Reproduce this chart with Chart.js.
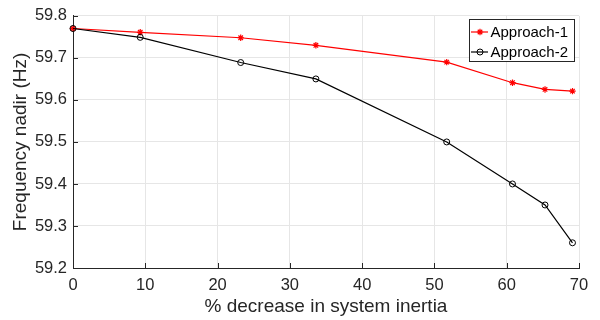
<!DOCTYPE html>
<html>
<head>
<meta charset="utf-8">
<script src="https://cdn.jsdelivr.net/npm/chart.js@4/dist/chart.umd.min.js"></script>
<style>
  html, body { margin: 0; padding: 0; background: #ffffff; }
  #wrap { width: 600px; height: 320px; position: relative; }
</style>
</head>
<body>
<div id="wrap"><canvas id="c" width="600" height="320"></canvas></div>
<script>
const inertiaDecrease = [0, 9.3, 23.2, 33.6, 51.7, 60.8, 65.3, 69.1];
const approach1 = [59.77, 59.761, 59.748, 59.73, 59.69, 59.641, 59.625, 59.621];
const approach2 = [59.77, 59.749, 59.689, 59.65, 59.50, 59.40, 59.35, 59.26];
const seriesNames = ['Approach-1', 'Approach-2'];
const xTitle = '% decrease in system inertia';
const yTitle = 'Frequency nadir (Hz)';

const AXIS = '#262626';
const FONT = '"Liberation Sans", Arial, Helvetica, sans-serif';

function pts(xs, ys) { return xs.map((x, i) => ({ x: x, y: ys[i] })); }

const innerTicks = {
  id: 'innerTicks',
  afterDatasetsDraw(chart) {
    const ctx = chart.ctx, xs = chart.scales.x, ys = chart.scales.y, a = chart.chartArea;
    ctx.save();
    ctx.strokeStyle = AXIS; ctx.lineWidth = 1;
    ctx.beginPath();
    xs.ticks.forEach(t => {
      const px = Math.round(xs.getPixelForValue(t.value)) + 0.5;
      ctx.moveTo(px, a.bottom); ctx.lineTo(px, a.bottom - 5);
    });
    ys.ticks.forEach(t => {
      const py = Math.round(ys.getPixelForValue(t.value)) + 0.5;
      ctx.moveTo(a.left, py); ctx.lineTo(a.left + 5, py);
    });
    ctx.stroke();
    ctx.restore();
  }
};

const boxLegend = {
  id: 'boxLegend',
  afterDraw(chart) {
    const ctx = chart.ctx;
    const x0 = 469.5, y0 = 19.5, w = 105, h = 42;
    ctx.save();
    ctx.fillStyle = '#ffffff';
    ctx.fillRect(x0, y0, w, h);
    ctx.strokeStyle = AXIS; ctx.lineWidth = 1;
    ctx.strokeRect(x0, y0, w, h);
    const rows = [32, 52];
    chart.data.datasets.forEach((ds, i) => {
      const y = rows[i];
      ctx.strokeStyle = ds.borderColor; ctx.lineWidth = 1.2;
      ctx.beginPath(); ctx.moveTo(471, y); ctx.lineTo(488, y); ctx.stroke();
      ctx.lineWidth = ds.pointBorderWidth;
      ctx.strokeStyle = ds.pointBorderColor;
      ctx.fillStyle = ds.backgroundColor;
      Chart.helpers.drawPoint(ctx, {
        pointStyle: ds.pointStyle, radius: ds.pointRadius, borderWidth: ds.pointBorderWidth, rotation: 0
      }, 480, y);
      ctx.fillStyle = '#000000';
      ctx.font = '15px ' + FONT;
      ctx.textBaseline = 'middle'; ctx.textAlign = 'left';
      ctx.fillText(ds.label, 490.5, y + 0.5);
    });
    ctx.restore();
  }
};

new Chart(document.getElementById('c'), {
  type: 'line',
  data: {
    datasets: [
      {
        label: seriesNames[0],
        data: pts(inertiaDecrease, approach1),
        borderColor: '#ff0000', backgroundColor: '#ff0000',
        borderWidth: 1.2, pointStyle: 'star', pointRadius: 3.2,
        pointBorderColor: '#ff0000', pointBorderWidth: 1.2,
        tension: 0, clip: false, order: 1
      },
      {
        label: seriesNames[1],
        data: pts(inertiaDecrease, approach2),
        borderColor: '#000000', backgroundColor: 'rgba(0,0,0,0)',
        borderWidth: 1.2, pointStyle: 'circle', pointRadius: 3,
        pointBorderColor: '#000000', pointBorderWidth: 1,
        tension: 0, clip: false, order: 0
      }
    ]
  },
  options: {
    responsive: false,
    animation: false,
    events: [],
    layout: { padding: { left: 0, right: 21, top: 15, bottom: 0 } },
    plugins: { legend: { display: false }, tooltip: { enabled: false } },
    scales: {
      x: {
        type: 'linear', min: 0, max: 70,
        afterFit(s) { s.height = 52; },
        ticks: { stepSize: 10, color: AXIS, padding: 8, maxRotation: 0,
                 font: { family: FONT, size: 16.5 } },
        grid: { color: '#e6e6e6', lineWidth: 1, drawTicks: false },
        border: { display: true, color: AXIS, width: 1 },
        title: { display: true, text: xTitle, color: AXIS,
                 font: { family: FONT, size: 19, lineHeight: 1 }, padding: { top: 0, bottom: 3.5 } }
      },
      y: {
        type: 'linear', min: 59.2, max: 59.8,
        afterFit(s) { s.width = 73; },
        ticks: { stepSize: 0.1, color: AXIS, padding: 6,
                 font: { family: FONT, size: 16.5 },
                 callback: v => Number(v).toFixed(1) },
        grid: { color: '#e6e6e6', lineWidth: 1, drawTicks: false },
        border: { display: true, color: AXIS, width: 1 },
        title: { display: true, text: yTitle, color: AXIS,
                 font: { family: FONT, size: 19, lineHeight: 1 }, padding: { top: 11.5, bottom: 0 } }
      }
    }
  },
  plugins: [innerTicks, boxLegend]
});
</script>
</body>
</html>
